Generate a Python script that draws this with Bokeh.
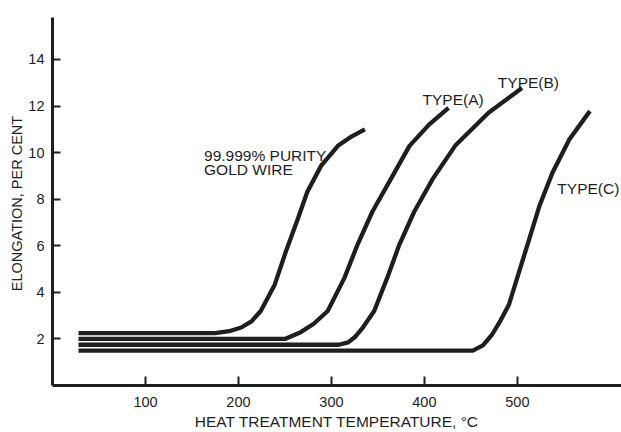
from bokeh.plotting import figure
from bokeh.models import Range1d, FixedTicker
from bokeh.core.properties import value
from bokeh.embed import file_html
from bokeh.resources import INLINE

# Data
pure_T = [28, 175, 190, 203, 214, 224, 239, 251, 264, 274, 289, 307, 322, 336]
pure_E = [2.25, 2.25, 2.33, 2.49, 2.75, 3.2, 4.33, 5.75, 7.17, 8.31, 9.44, 10.29, 10.7, 11.0]

typeA_T = [28, 250, 267, 281, 296, 314, 328, 344, 364, 384, 405, 426]
typeA_E = [2.0, 2.0, 2.29, 2.65, 3.2, 4.62, 6.04, 7.46, 8.87, 10.29, 11.2, 11.92]

typeB_T = [28, 308, 318, 325, 334, 346, 360, 373, 389, 409, 433, 469, 505]
typeB_E = [1.75, 1.75, 1.85, 2.07, 2.5, 3.2, 4.62, 6.04, 7.46, 8.87, 10.29, 11.71, 12.77]

typeC_T = [28, 452, 463, 473, 482, 491, 502, 513, 524, 538, 556, 578]
typeC_E = [1.5, 1.5, 1.72, 2.2, 2.8, 3.48, 4.9, 6.32, 7.74, 9.16, 10.57, 11.78]

x_ticks = [100, 200, 300, 400, 500]
y_ticks = [2, 4, 6, 8, 10, 12, 14]

label_texts = ["99.999% PURITY", "GOLD WIRE", "TYPE(A)", "TYPE(B)", "TYPE(C)"]
label_T = [163, 163, 398, 479, 543]
label_E = [9.86, 9.27, 12.27, 13.0, 8.45]

INK = "#1e1e1e"
FONT = "Liberation Sans"

p = figure(width=621, height=432, output_backend="svg", toolbar_location=None,
           x_range=Range1d(0, 612), y_range=Range1d(0, 15.8),
           min_border_left=52, min_border_right=0, min_border_top=17, min_border_bottom=43)
p.outline_line_color = None
p.xgrid.visible = False
p.ygrid.visible = False
p.background_fill_color = "white"
p.border_fill_color = "white"

for T, E in [(typeC_T, typeC_E), (typeB_T, typeB_E), (typeA_T, typeA_E), (pure_T, pure_E)]:
    p.line(T, E, line_color=INK, line_width=4.3, line_join="round", line_cap="butt")

p.text(x=label_T, y=label_E, text=label_texts, text_font=value(FONT),
       text_font_size="15.5px", text_color=INK, text_baseline="alphabetic", text_align="left")

for ax in (p.xaxis[0], p.yaxis[0]):
    ax.axis_line_width = 3
    ax.axis_line_color = INK
    ax.major_tick_line_color = INK
    ax.major_tick_line_width = 2
    ax.major_tick_out = 0
    ax.minor_tick_line_color = None
    ax.major_label_text_font = FONT
    ax.major_label_text_font_size = "14.5px"
    ax.major_label_text_color = INK
    ax.axis_label_text_font = FONT
    ax.axis_label_text_font_style = "normal"
    ax.axis_label_text_color = INK

p.xaxis[0].ticker = FixedTicker(ticks=x_ticks)
p.xaxis[0].major_tick_in = 9
p.xaxis[0].major_label_standoff = 11
p.xaxis[0].axis_label = "HEAT TREATMENT TEMPERATURE, \u00b0C"
p.xaxis[0].axis_label_text_font_size = "15.5px"
p.xaxis[0].axis_label_standoff = 3

p.yaxis[0].ticker = FixedTicker(ticks=y_ticks)
p.yaxis[0].major_tick_in = 8
p.yaxis[0].major_label_standoff = 8
p.yaxis[0].axis_label = "ELONGATION,  PER CENT"
p.yaxis[0].axis_label_text_font_size = "14.5px"
p.yaxis[0].axis_label_standoff = 0

open("out.html", "w").write(file_html(p, INLINE))
